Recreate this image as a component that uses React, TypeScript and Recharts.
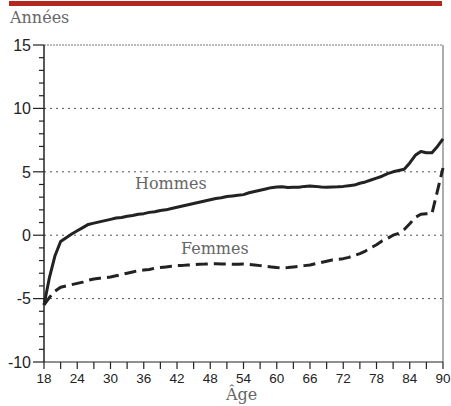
import { LineChart, Line, XAxis, YAxis, ReferenceLine } from "recharts";

const ages = [
  18, 19, 20, 21, 22, 23, 24, 25, 26, 27, 28, 29, 30, 31, 32, 33, 34, 35, 36, 37,
  38, 39, 40, 41, 42, 43, 44, 45, 46, 47, 48, 49, 50, 51, 52, 53, 54, 55, 56, 57,
  58, 59, 60, 61, 62, 63, 64, 65, 66, 67, 68, 69, 70, 71, 72, 73, 74, 75, 76, 77,
  78, 79, 80, 81, 82, 83, 84, 85, 86, 87, 88, 89, 90,
];

const hommes = [
  -5.5, -3.3, -1.6, -0.5, -0.2, 0.1, 0.35, 0.6, 0.85, 0.95, 1.05, 1.15, 1.25, 1.35, 1.4, 1.5, 1.55, 1.65, 1.7, 1.8,
  1.85, 1.95, 2.0, 2.1, 2.2, 2.3, 2.4, 2.5, 2.6, 2.7, 2.8, 2.9, 2.95, 3.05, 3.1, 3.15, 3.2, 3.35, 3.45, 3.55,
  3.65, 3.75, 3.8, 3.82, 3.76, 3.78, 3.78, 3.85, 3.88, 3.85, 3.8, 3.78, 3.8, 3.82, 3.85, 3.9, 3.95, 4.1, 4.2, 4.35,
  4.5, 4.65, 4.85, 5.0, 5.1, 5.2, 5.7, 6.3, 6.6, 6.5, 6.5, 7.0, 7.6,
];

const femmes = [
  -5.5, -4.9, -4.4, -4.1, -4.0, -3.9, -3.8, -3.7, -3.55, -3.45, -3.4, -3.35, -3.3, -3.2, -3.1, -3.0, -2.9, -2.8, -2.75, -2.7,
  -2.6, -2.55, -2.5, -2.45, -2.4, -2.38, -2.35, -2.33, -2.3, -2.28, -2.25, -2.25, -2.27, -2.28, -2.3, -2.3, -2.28, -2.3, -2.35, -2.4,
  -2.45, -2.5, -2.55, -2.58, -2.55, -2.5, -2.45, -2.4, -2.35, -2.25, -2.15, -2.05, -1.95, -1.9, -1.85, -1.75, -1.6, -1.45, -1.25, -1.0,
  -0.75, -0.45, -0.25, 0.0, 0.15, 0.45, 0.9, 1.4, 1.65, 1.7, 1.7, 3.5, 5.3,
];

const xTicks = [18, 21, 24, 27, 30, 33, 36, 39, 42, 45, 48, 51, 54, 57, 60, 63, 66, 69, 72, 75, 78, 81, 84, 87, 90];
const yTicks = [-10, -9, -8, -7, -6, -5, -4, -3, -2, -1, 0, 1, 2, 3, 4, 5, 6, 7, 8, 9, 10, 11, 12, 13, 14, 15];
const gridValues = [10, 5, 0, -5];

const data = ages.map((age, i) => ({ age, hommes: hommes[i], femmes: femmes[i] }));

const AXIS_X = 44;
const serif = "'DejaVu Serif', serif";
const sans = "'Liberation Sans', Arial, sans-serif";
const labelColor = "#666";

function XTick({ x, y, payload }: any) {
  if (payload.value % 6 !== 0) return null;
  return (
    <text x={x} y={y} dy="0.71em" textAnchor="middle" fontFamily={sans} fontSize={13.5} fill="#222">
      {payload.value}
    </text>
  );
}

function YTick({ y, payload }: any) {
  const major = payload.value % 5 === 0;
  return (
    <g>
      <line x1={AXIS_X - (major ? 11 : 5)} x2={AXIS_X} y1={y} y2={y} stroke="#222" strokeWidth={1.2} />
      {major && (
        <text x={31} y={y} dy="0.36em" textAnchor="end" fontFamily={sans} fontSize={16} fill="#222">
          {payload.value}
        </text>
      )}
    </g>
  );
}

export default function App() {
  return (
    <div style={{ position: "absolute", left: 0, top: 0, width: 451, height: 406, background: "#fff", overflow: "hidden" }}>
      <div style={{ position: "absolute", left: 9, top: 1, width: 433, height: 5, background: "#B4281F" }} />
      <div style={{ position: "absolute", left: 10, top: 8, fontFamily: serif, fontSize: 16, color: labelColor }}>Années</div>
      <LineChart width={451} height={406} data={data} margin={{ top: 45, right: 8, bottom: 0, left: 0 }}>
        <XAxis
          dataKey="age"
          type="number"
          domain={[18, 90]}
          ticks={xTicks}
          interval={0}
          tick={<XTick />}
          tickSize={7}
          tickMargin={4}
          height={44}
          axisLine={{ stroke: "#222", strokeWidth: 1.2 }}
          tickLine={{ stroke: "#222", strokeWidth: 1.2 }}
        />
        <YAxis
          type="number"
          domain={[-10, 15]}
          ticks={yTicks}
          interval={0}
          width={44}
          tick={<YTick />}
          tickLine={false}
          axisLine={{ stroke: "#222", strokeWidth: 1.5 }}
        />
        {gridValues.map((v) => (
          <ReferenceLine key={v} y={v} stroke="#555" strokeDasharray="2 4" strokeWidth={1} />
        ))}
        <ReferenceLine y={15} stroke="#777" strokeDasharray="2 1" strokeWidth={1.2} />
        <ReferenceLine x={90} stroke="#777" strokeWidth={1.2} />
        <Line
          dataKey="hommes"
          stroke="#222"
          strokeWidth={3}
          dot={false}
          strokeLinejoin="round"
          isAnimationActive={false}
        />
        <Line
          dataKey="femmes"
          stroke="#222"
          strokeWidth={3}
          strokeDasharray="12 6"
          dot={false}
          strokeLinejoin="round"
          isAnimationActive={false}
        />
      </LineChart>
      <div style={{ position: "absolute", left: 135, top: 174, fontFamily: serif, fontSize: 16, color: labelColor }}>Hommes</div>
      <div style={{ position: "absolute", left: 181, top: 239, fontFamily: serif, fontSize: 16, color: labelColor }}>Femmes</div>
      <div style={{ position: "absolute", left: 226, top: 385, fontFamily: serif, fontSize: 16, color: labelColor, lineHeight: "20px" }}>Âge</div>
    </div>
  );
}
